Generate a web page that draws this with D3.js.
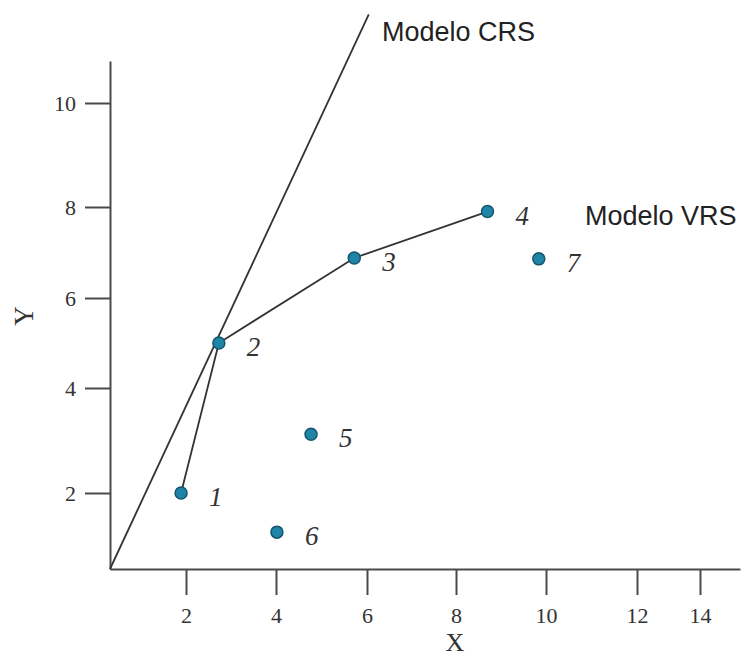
<!DOCTYPE html>
<html>
<head>
<meta charset="utf-8">
<script src="https://cdn.jsdelivr.net/npm/d3@7"></script>
<style>
  body { margin: 0; background: #fff; }
  svg { display: block; }
</style>
</head>
<body>
<script>
// data
var dmuNames = ["1", "2", "3", "4", "5", "6", "7"];
var inputX = [1.87, 2.73, 5.72, 8.7, 4.77, 4.02, 9.84];
var outputY = [2.0, 5.0, 6.88, 7.9, 3.12, 0.97, 6.86];
var vrsFrontier = [0, 1, 2, 3];           // DMUs on the VRS frontier
var crsLine = [[0, 0], [6.04, 11.69]];    // ray from origin through DMU 2
var xTicks = [2, 4, 6, 8, 10, 12, 14];
var yTicks = [2, 4, 6, 8, 10];

var width = 747, height = 660;

// the original drawing is hand spaced, so piecewise scales follow its ticks
var x = d3.scaleLinear()
    .domain([0, 2, 4, 6, 8, 10, 12, 14, 15.3])
    .range([110, 186, 276, 367, 456, 546, 637, 700, 740]);
var y = d3.scaleLinear()
    .domain([0, 2, 4, 6, 8, 10, 10.8])
    .range([569, 493, 388, 298, 207, 103, 61]);

var svg = d3.select("body").append("svg")
    .attr("width", width).attr("height", height);

var xaxis = d3.axisBottom(x).tickValues(xTicks).tickSize(26).tickSizeOuter(0).tickPadding(12);
var yaxis = d3.axisLeft(y).tickValues(yTicks).tickSize(25).tickSizeOuter(0).tickPadding(9);

function styleAxis(g)
{
  g.select(".domain").attr("stroke", "#4a4a4a").attr("stroke-width", 2);
  g.selectAll(".tick line").attr("stroke", "#4a4a4a").attr("stroke-width", 2);
  g.selectAll(".tick text")
    .attr("fill", "#333")
    .style("font-family", "'Liberation Serif', 'DejaVu Serif', serif")
    .style("font-size", "22px");
}

svg.append("g")
    .attr("transform", "translate(0," + y(0) + ")")
    .call(xaxis).call(styleAxis);

svg.append("g")
    .attr("transform", "translate(" + x(0) + ",0)")
    .call(yaxis).call(styleAxis);

// axis titles
svg.append("text")
    .attr("x", 455).attr("y", 651)
    .attr("text-anchor", "middle")
    .style("font-family", "'Liberation Serif', serif")
    .style("font-size", "26px").attr("fill", "#333")
    .text("X");

svg.append("text")
    .attr("transform", "translate(33,316) rotate(-90)")
    .attr("text-anchor", "middle")
    .style("font-family", "'Liberation Serif', serif")
    .style("font-size", "27px").attr("fill", "#333")
    .text("Y");

var line = d3.line()
    .x(function(d) { return x(d[0]); })
    .y(function(d) { return y(d[1]); });

// CRS ray
svg.append("path")
    .attr("d", line(crsLine))
    .attr("fill", "none").attr("stroke", "#333").attr("stroke-width", 1.8);

// VRS frontier
svg.append("path")
    .attr("d", line(vrsFrontier.map(function(i) { return [inputX[i], outputY[i]]; })))
    .attr("fill", "none").attr("stroke", "#333").attr("stroke-width", 1.8);

// DMU points
svg.selectAll("circle.dmu")
    .data(dmuNames)
    .enter().append("circle")
    .attr("class", "dmu")
    .attr("cx", function(d, i) { return x(inputX[i]); })
    .attr("cy", function(d, i) { return y(outputY[i]); })
    .attr("r", 6)
    .attr("fill", "#1f85a6")
    .attr("stroke", "#14556d")
    .attr("stroke-width", 1.5);

svg.selectAll("text.dmu")
    .data(dmuNames)
    .enter().append("text")
    .attr("class", "dmu")
    .attr("x", function(d, i) { return x(inputX[i]) + 28; })
    .attr("y", function(d, i) { return y(outputY[i]) + 13; })
    .style("font-family", "'Liberation Serif', serif")
    .style("font-style", "italic")
    .style("font-size", "27px")
    .attr("fill", "#333")
    .text(function(d) { return d; });

// model labels
svg.append("text")
    .attr("x", 382).attr("y", 41)
    .style("font-family", "'Liberation Sans', Arial, sans-serif")
    .style("font-size", "27px").attr("fill", "#222")
    .text("Modelo CRS");

svg.append("text")
    .attr("x", 585).attr("y", 225)
    .style("font-family", "'Liberation Sans', Arial, sans-serif")
    .style("font-size", "27px").attr("fill", "#222")
    .text("Modelo VRS");
</script>
</body>
</html>
